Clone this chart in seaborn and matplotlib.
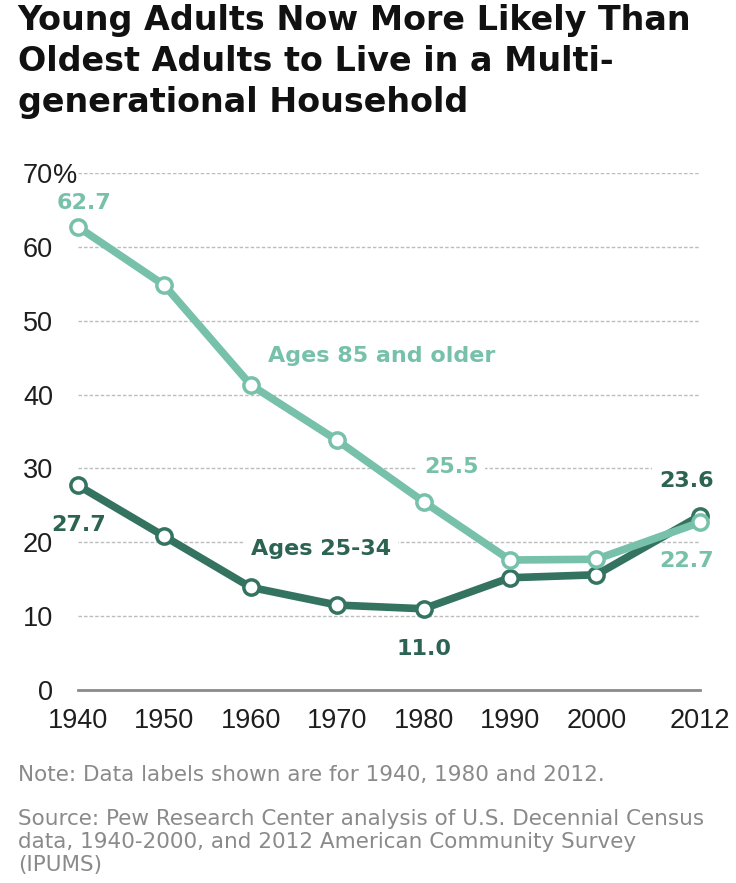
import matplotlib
matplotlib.use("Agg")
import matplotlib.pyplot as plt
import seaborn as sns
import pandas as pd

years = [1940, 1950, 1960, 1970, 1980, 1990, 2000, 2012]
ages_85_plus = [62.7, 54.8, 41.3, 33.8, 25.5, 17.6, 17.7, 22.7]
ages_25_34 = [27.7, 20.8, 13.9, 11.5, 11.0, 15.2, 15.6, 23.6]
series_names = ["Ages 85 and older", "Ages 25-34"]
y_ticks = [0, 10, 20, 30, 40, 50, 60, 70]
y_tick_labels = ["0", "10", "20", "30", "40", "50", "60", "70"]

LIGHT = "#77c1aa"
DARK = "#33735f"
DARK_TXT = "#2c6352"

df = pd.DataFrame({
    "year": years * 2,
    "value": ages_85_plus + ages_25_34,
    "group": [series_names[0]] * len(years) + [series_names[1]] * len(years),
})

sns.set_theme(style="white")
plt.rcParams['font.family'] = ['DejaVu Sans']

fig = plt.figure(figsize=(7.36, 8.83), dpi=100)
ax = fig.add_axes([0.106, 0.21857, 0.8451, 0.5855])

for g in y_ticks[1:]:
    ax.axhline(g, color="#bcbcbc", lw=1, ls=(0, (2.5, 1.5)), zorder=0)

sns.lineplot(data=df, x="year", y="value", hue="group",
             palette={series_names[0]: LIGHT, series_names[1]: DARK},
             hue_order=[series_names[0], series_names[1]],
             lw=5.5, marker="o", markersize=11, markerfacecolor="white",
             markeredgewidth=2.5, legend=False, ax=ax, clip_on=False)
line_light, line_dark = ax.lines[-2], ax.lines[-1]
line_light.set_markeredgecolor(LIGHT)
line_dark.set_markeredgecolor(DARK)
line_dark.set_zorder(3)
line_light.set_zorder(4)

ax.set_xlim(1940, 2012)
ax.set_ylim(0, 70)
ax.set_xticks(years)
ax.set_xticklabels([str(y) for y in years], family="Liberation Sans")
ax.set_yticks(y_ticks)
ax.set_yticklabels(y_tick_labels, family="Liberation Sans")
ax.set_xlabel("")
ax.set_ylabel("")
for s in ["top", "right", "left"]:
    ax.spines[s].set_visible(False)
ax.spines["bottom"].set_color("#8a8a8a")
ax.spines["bottom"].set_linewidth(2)
ax.spines["bottom"].set_zorder(1)
ax.tick_params(axis="both", length=0, labelsize=19.5, colors="#1e1e1e")
ax.tick_params(axis="x", pad=13)
ax.tick_params(axis="y", pad=18)
ax.annotate("%", xy=(0, 70), xycoords=("axes fraction", "data"),
            xytext=(-18, 0), textcoords="offset points", ha="left",
            va="center_baseline",
            fontsize=19.5, color="#1e1e1e", family="Liberation Sans")

fs = 16
kw = dict(fontweight="bold", fontsize=fs, family="DejaVu Sans", zorder=2)
wb = dict(fc="white", ec="none", pad=5)
ax.text(1940.7, 65.9, "62.7", color=LIGHT, ha="center", va="center", **kw)
ax.text(1983.2, 30.2, "25.5", color=LIGHT, ha="center", va="center", bbox=wb, **kw)
ax.text(2010.4, 28.3, "23.6", color=DARK_TXT, ha="center", va="center", bbox=wb, **kw)
ax.text(2010.4, 17.5, "22.7", color=LIGHT, ha="center", va="center", **kw)
ax.text(1940.1, 22.3, "27.7", color=DARK_TXT, ha="center", va="center", **kw)
ax.text(1980.0, 5.6, "11.0", color=DARK_TXT, ha="center", va="center", **kw)
ax.text(1975.2, 45.2, "Ages 85 and older", color=LIGHT, ha="center", va="center", **kw)
ax.text(1968.1, 19.1, "Ages 25-34", color=DARK_TXT, ha="center", va="center", bbox=wb, **kw)

fig.text(0.024, 0.996, "Young Adults Now More Likely Than\nOldest Adults to Live in a Multi-\ngenerational Household",
         ha="left", va="top", fontsize=24, fontweight="bold", color="#111111",
         family="DejaVu Sans", linespacing=1.32)

fig.text(0.0245, 1 - 775 / 883, "Note: Data labels shown are for 1940, 1980 and 2012.",
         ha="left", va="center", fontsize=15.5, color="#8a8a8a")
fig.text(0.0245, 1 - 842 / 883, "Source: Pew Research Center analysis of U.S. Decennial Census\ndata, 1940-2000, and 2012 American Community Survey\n(IPUMS)",
         ha="left", va="center", fontsize=15.5, color="#8a8a8a", linespacing=1.2)

fig.savefig("out.png", dpi=100)
